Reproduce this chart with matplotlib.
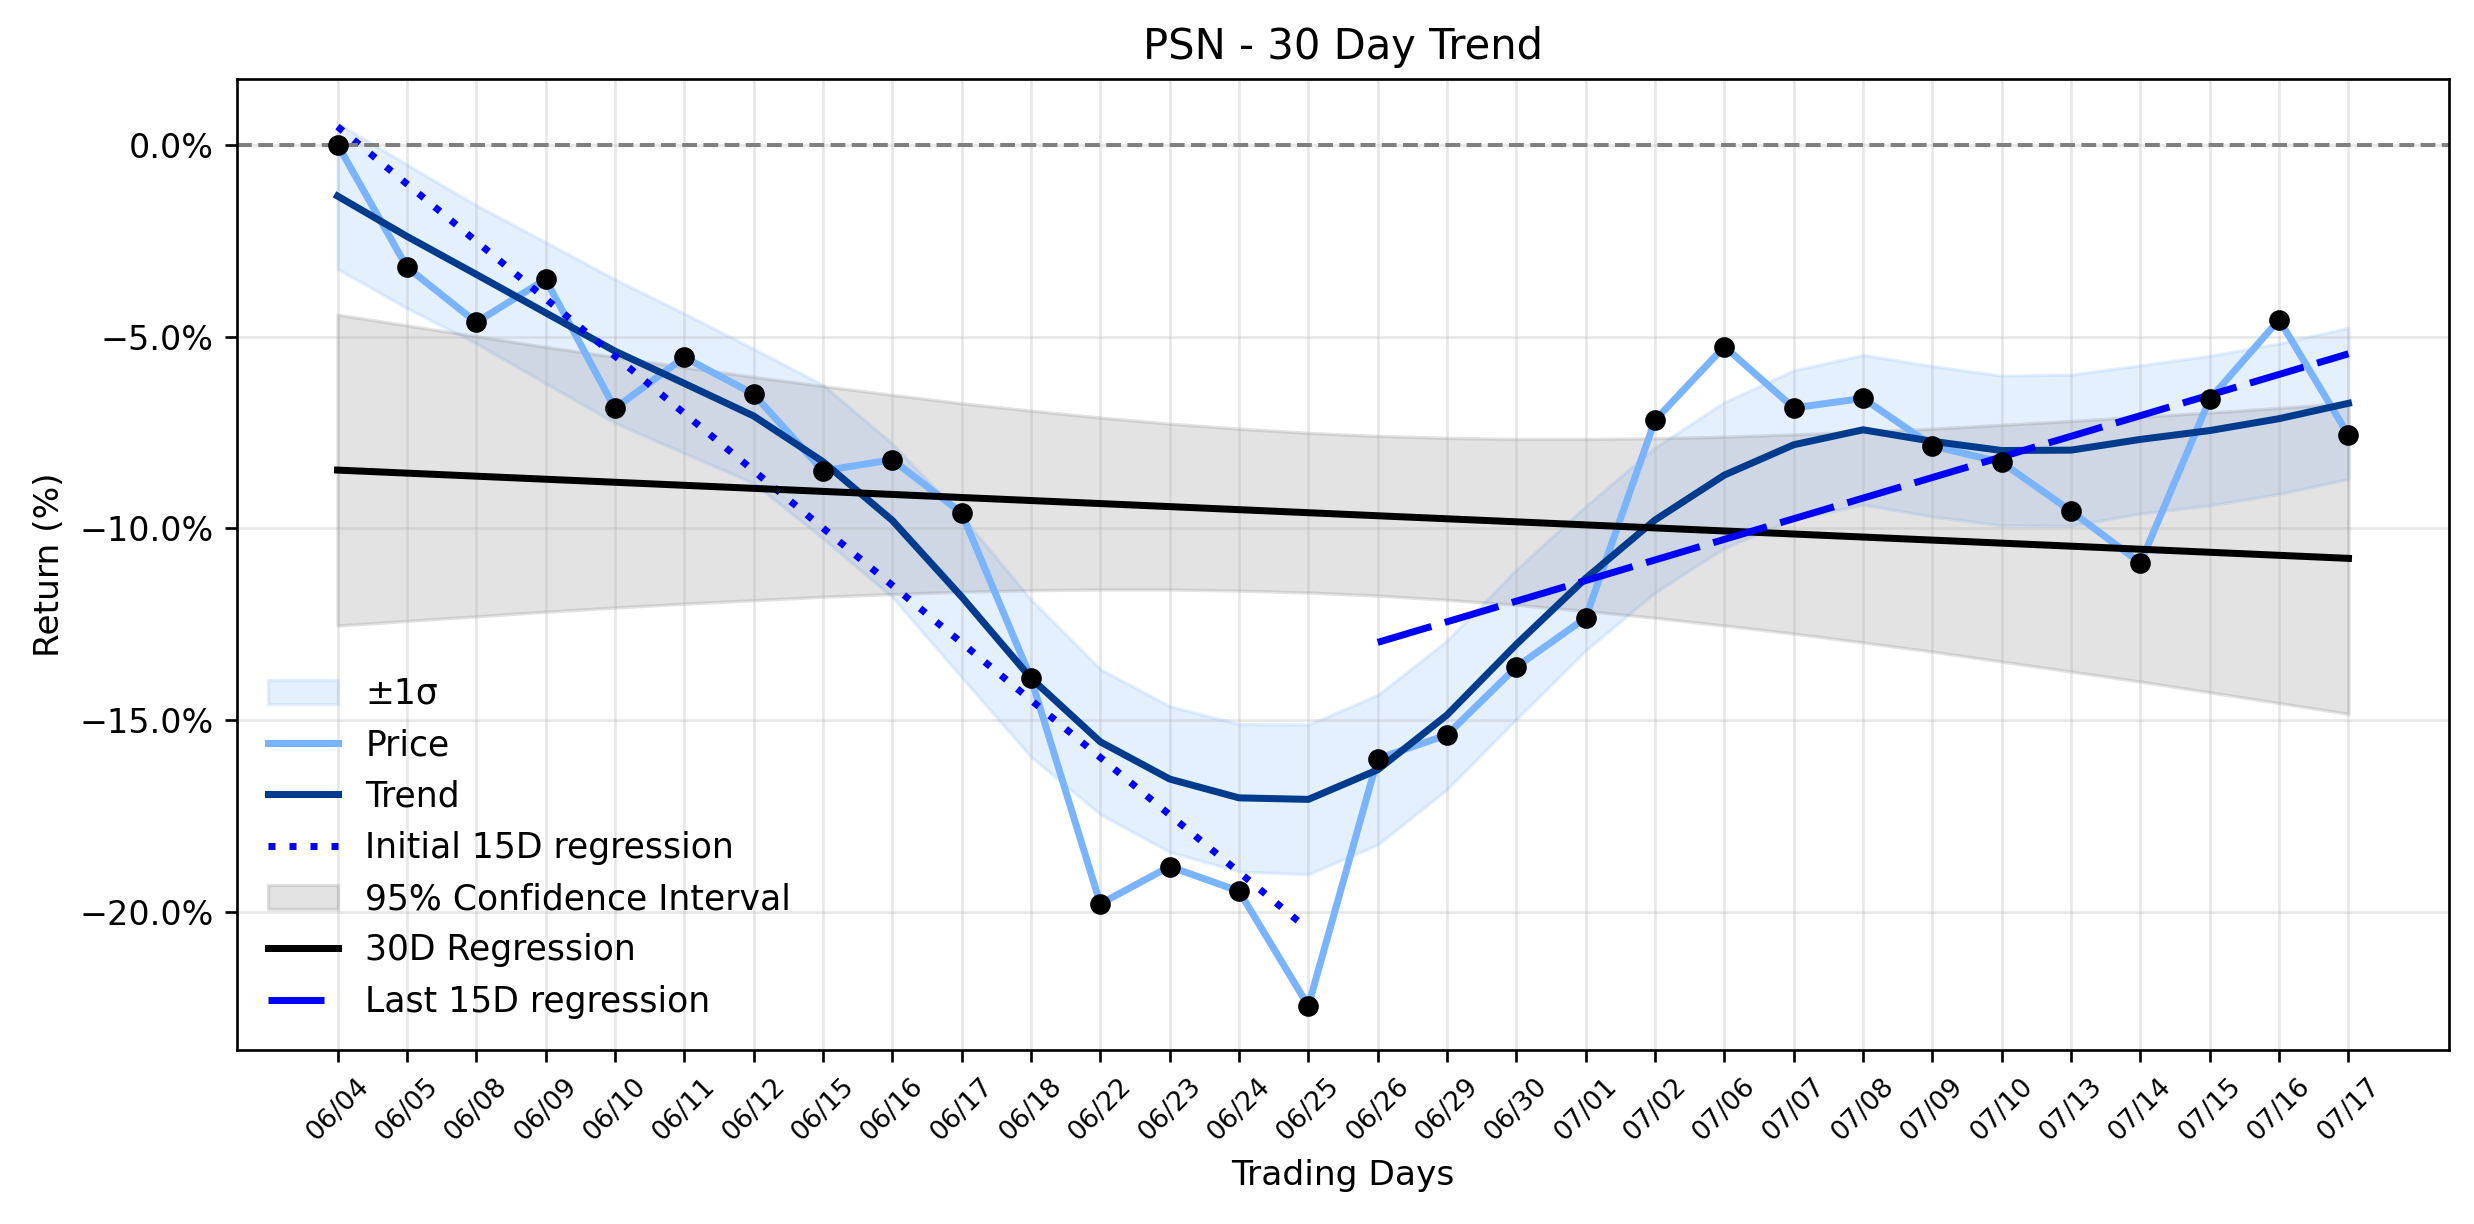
import matplotlib
matplotlib.use("Agg")
import matplotlib.pyplot as plt
import numpy as np
from matplotlib.ticker import PercentFormatter

dates = ['06/04', '06/05', '06/08', '06/09', '06/10', '06/11', '06/12', '06/15', '06/16', '06/17',
         '06/18', '06/22', '06/23', '06/24', '06/25', '06/26', '06/29', '06/30', '07/01', '07/02',
         '07/06', '07/07', '07/08', '07/09', '07/10', '07/13', '07/14', '07/15', '07/16', '07/17']

price = [0.00, -3.19, -4.63, -3.51, -6.87, -5.54, -6.50, -8.50, -8.21, -9.60,
         -13.90, -19.78, -18.81, -19.45, -22.44, -16.00, -15.38, -13.61, -12.33, -7.18,
         -5.26, -6.86, -6.61, -7.85, -8.28, -9.55, -10.90, -6.63, -4.56, -7.57]

trend = [-1.34, -2.39, -3.38, -4.38, -5.38, -6.22, -7.07, -8.26, -9.79, -11.78,
         -13.90, -15.56, -16.53, -17.02, -17.06, -16.29, -14.86, -13.02, -11.30, -9.78,
         -8.61, -7.82, -7.43, -7.73, -7.97, -7.96, -7.68, -7.45, -7.14, -6.74]

sigma = [1.90, 1.87, 1.80, 1.84, 1.87, 1.82, 1.75, 2.00, 2.00, 2.10,
         2.05, 1.89, 1.90, 1.92, 1.95, 1.95, 1.94, 1.95, 1.88, 1.89,
         1.90, 1.94, 1.95, 1.96, 1.95, 1.97, 1.93, 1.95, 1.96, 1.97]

ci_upper = [-4.43, -4.71, -4.99, -5.27, -5.53, -5.80, -6.05, -6.29, -6.52, -6.74,
            -6.93, -7.11, -7.27, -7.40, -7.51, -7.59, -7.64, -7.67, -7.67, -7.65,
            -7.61, -7.55, -7.48, -7.40, -7.30, -7.20, -7.09, -6.98, -6.86, -6.73]
ci_lower = [-12.53, -12.41, -12.29, -12.17, -12.06, -11.96, -11.87, -11.78, -11.71, -11.65,
            -11.61, -11.59, -11.59, -11.62, -11.67, -11.75, -11.86, -11.99, -12.15, -12.33,
            -12.53, -12.74, -12.97, -13.21, -13.47, -13.73, -13.99, -14.27, -14.55, -14.83]

reg30_ends = [-8.48, -10.78]        # 30D regression at first and last day
init15_ends = [0.47, -20.45]        # initial 15D regression, day 0 -> day 14
last15_ends = [-12.97, -5.45]       # last 15D regression, day 15 -> day 29

x = np.arange(len(dates))
trend_a = np.array(trend)
sig_a = np.array(sigma)

price_color = '#7AB3FF'
trend_color = '#003B8E'

fig = plt.figure(figsize=(2474 / 240, 1224 / 240), dpi=240)
ax = fig.add_axes([237 / 2474, 1 - 1050 / 1224, (2449 - 237) / 2474, (1050 - 79) / 1224])

h_sigma = ax.fill_between(x, trend_a - sig_a, trend_a + sig_a, color=price_color, alpha=0.19, label='±1σ')
h_price, = ax.plot(x, price, color=price_color, lw=2.1, label='Price')
h_trend, = ax.plot(x, trend, color=trend_color, lw=2.1, label='Trend')
h_init, = ax.plot([x[0], x[14]], init15_ends, color='blue', lw=2.1, linestyle=(0, (1, 2)),
                  label='Initial 15D regression')
h_ci = ax.fill_between(x, ci_lower, ci_upper, color='gray', alpha=0.22, label='95% Confidence Interval')
h_reg, = ax.plot([x[0], x[-1]], reg30_ends, color='black', lw=2.1, label='30D Regression')
h_last, = ax.plot([x[15], x[-1]], last15_ends, color='blue', lw=2.1, linestyle=(0, (8, 2)),
                  label='Last 15D regression')
ax.scatter(x, price, s=27, color='black', zorder=5)
ax.axhline(0, color='gray', linestyle='--', lw=1.2)

ax.set_xticks(x)
ax.set_xticklabels(dates, rotation=45, fontsize=8)
ax.yaxis.set_major_formatter(PercentFormatter(xmax=100, decimals=1))
ax.grid(True, alpha=0.3)
ax.set_title('PSN - 30 Day Trend', fontsize=12.5)
ax.set_xlabel('Trading Days', fontsize=10.3)
ax.set_ylabel('Return (%)', fontsize=10.3)

ax.legend(handles=[h_sigma, h_price, h_trend, h_init, h_ci, h_reg, h_last],
          loc='lower left', frameon=False, fontsize=10.4)

fig.savefig('out.png', dpi=240)
